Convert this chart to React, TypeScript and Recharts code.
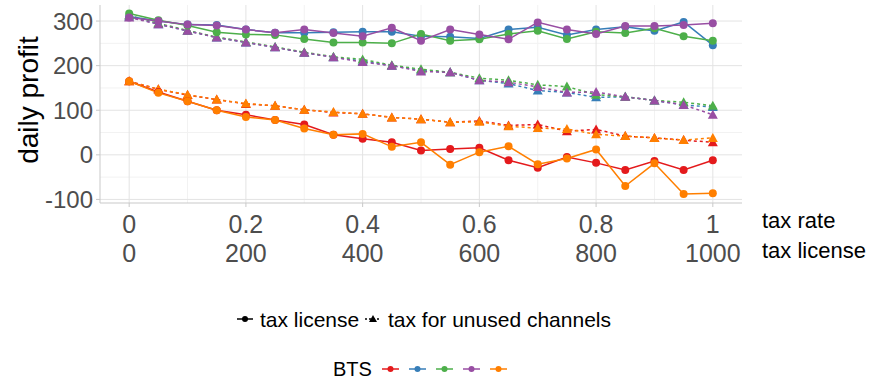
import React from 'react'
import { ComposedChart, Line, XAxis, YAxis, CartesianGrid } from 'recharts'

const taxRate = [0, 0.05, 0.1, 0.15, 0.2, 0.25, 0.3, 0.35, 0.4, 0.45, 0.5, 0.55, 0.6, 0.65, 0.7, 0.75, 0.8, 0.85, 0.9, 0.95, 1]

const rateTicks = [0, 0.2, 0.4, 0.6, 0.8, 1]
const rateLabels = ['0', '0.2', '0.4', '0.6', '0.8', '1']
const licenseLabels = ['0', '200', '400', '600', '800', '1000']
const profitTicks = [-100, 0, 100, 200, 300]

const btsNames = ['1', '2', '3', '4', '5']
const btsColors = ['#E41A1C', '#377EB8', '#4DAF4A', '#984EA3', '#FF7F00']

// tax license (solid, circles)
const licenseRed = [165, 141, 120, 100, 90, 78, 68, 45, 36, 28, 10, 13, 16, -12, -29, -5, -18, -34, -14, -34, -12]
const licenseBlue = [310, 300, 292, 291, 281, 274, 274, 275, 276, 276, 266, 265, 261, 281, 286, 269, 281, 287, 278, 298, 246]
const licenseGreen = [317, 302, 290, 275, 270, 269, 260, 252, 252, 250, 271, 256, 259, 271, 278, 260, 276, 273, 284, 266, 256]
const licensePurple = [308, 300, 292, 290, 281, 274, 281, 273, 266, 285, 256, 281, 270, 259, 297, 281, 271, 289, 289, 291, 295]
const licenseOrange = [165, 139, 120, 100, 85, 78, 59, 45, 47, 18, 28, -22, 6, 19, -21, -8, 12, -70, -19, -88, -86]

// tax for unused channels (dashed, triangles)
const unusedRed = [165, 147, 134, 124, 114, 110, 101, 95, 92, 84, 80, 73, 76, 66, 68, 53, 57, 42, 38, 33, 28]
const unusedBlue = [310, 293, 278, 263, 252, 241, 229, 219, 210, 200, 189, 185, 167, 160, 144, 140, 129, 130, 122, 112, 107]
const unusedGreen = [313, 295, 279, 264, 253, 242, 230, 220, 214, 201, 192, 185, 172, 167, 157, 153, 135, 130, 122, 118, 110]
const unusedPurple = [308, 293, 278, 263, 252, 241, 229, 219, 208, 200, 187, 185, 167, 163, 152, 140, 141, 130, 122, 112, 90]
const unusedOrange = [165, 147, 135, 124, 115, 110, 101, 96, 92, 84, 80, 73, 74, 64, 60, 58, 46, 42, 38, 33, 38]

const licenseSeries = [licenseRed, licenseBlue, licenseGreen, licensePurple, licenseOrange]
const unusedSeries = [unusedRed, unusedBlue, unusedGreen, unusedPurple, unusedOrange]

const data = taxRate.map((x, i) => {
  const row: Record<string, number> = { x }
  btsNames.forEach((b, k) => {
    row[`lic${b}`] = licenseSeries[k][i]
    row[`unu${b}`] = unusedSeries[k][i]
  })
  return row
})

const FONT = '"Liberation Sans", Arial, sans-serif'
const AXIS_GREY = '#c9c9c9'
const TEXT_GREY = '#4d4d4d'

function XTick(props: any) {
  const { x, y, payload } = props
  const idx = rateTicks.indexOf(payload.value)
  return (
    <g>
      <text x={x} y={y + 24} textAnchor="middle" fontSize={25} fill={TEXT_GREY} fontFamily={FONT}>
        {rateLabels[idx]}
      </text>
      <text x={x} y={y + 53} textAnchor="middle" fontSize={25} fill={TEXT_GREY} fontFamily={FONT}>
        {licenseLabels[idx]}
      </text>
    </g>
  )
}

function triangleDot(color: string, name: string) {
  return (props: any) => {
    const { cx, cy, index } = props
    if (cx == null || cy == null) return <g key={`t-${name}-${index}`} />
    const s = 5
    return (
      <polygon
        key={`t-${name}-${index}`}
        points={`${cx},${cy - s} ${cx - s},${cy + s * 0.8} ${cx + s},${cy + s * 0.8}`}
        fill={color}
      />
    )
  }
}

export default function App() {
  return (
    <div style={{ position: 'absolute', left: 0, top: 0, width: 871, height: 383, background: '#fff', fontFamily: FONT }}>
      <ComposedChart width={871} height={290} data={data} margin={{ top: 5, right: 129, bottom: 17, left: 0 }}>
        <CartesianGrid
          stroke="#f2f2f2"
          horizontalValues={[-50, 50, 150, 250]}
          verticalValues={[0.1, 0.3, 0.5, 0.7, 0.9]}
        />
        <CartesianGrid stroke="#e3e3e3" horizontalValues={profitTicks} verticalValues={rateTicks} />
        <XAxis
          dataKey="x"
          type="number"
          domain={[-0.05, 1.05]}
          ticks={rateTicks}
          height={70}
          stroke={AXIS_GREY}
          tickSize={4}
          tick={<XTick />}
          allowDataOverflow
        />
        <YAxis
          type="number"
          domain={[-108, 336]}
          ticks={profitTicks}
          width={100}
          stroke={AXIS_GREY}
          tickSize={4}
          tickMargin={3}
          tick={{ fontSize: 24, fill: TEXT_GREY, fontFamily: FONT }}
          allowDataOverflow
        />
        {btsNames.map((b, k) => (
          <Line
            key={`unu${b}`}
            dataKey={`unu${b}`}
            stroke={btsColors[k]}
            strokeWidth={1.5}
            strokeDasharray="3 3"
            dot={triangleDot(btsColors[k], `unu${b}`)}
            activeDot={false}
            isAnimationActive={false}
          />
        ))}
        {btsNames.map((b, k) => (
          <Line
            key={`lic${b}`}
            dataKey={`lic${b}`}
            stroke={btsColors[k]}
            strokeWidth={1.5}
            dot={{ r: 4, fill: btsColors[k], stroke: btsColors[k], strokeWidth: 0 }}
            activeDot={false}
            isAnimationActive={false}
          />
        ))}
      </ComposedChart>

      <svg width={871} height={383} style={{ position: 'absolute', left: 0, top: 0, pointerEvents: 'none' }}>
        <text
          transform="translate(38,100) rotate(-90)"
          textAnchor="middle"
          fontSize={28}
          fill="#000"
          fontFamily={FONT}
        >
          daily profit
        </text>
        <text x={762} y={228} fontSize={22} fill="#000" fontFamily={FONT}>tax rate</text>
        <text x={762} y={258} fontSize={22} fill="#000" fontFamily={FONT}>tax license</text>

        {/* linetype legend */}
        <line x1={237} x2={253} y1={319} y2={319} stroke="#000" strokeWidth={1.5} />
        <circle cx={245} cy={319} r={3} fill="#000" />
        <text x={260} y={327} fontSize={21} fill="#000" fontFamily={FONT}>tax license</text>
        <line x1={365} x2={381} y1={319} y2={319} stroke="#000" strokeWidth={1.5} strokeDasharray="2 2" />
        <polygon points="373,315 369,322 377,322" fill="#000" />
        <text x={388} y={327} fontSize={21} fill="#000" fontFamily={FONT}>tax for unused channels</text>

        {/* colour legend */}
        <text x={333} y={376} fontSize={20} fill="#000" fontFamily={FONT}>BTS</text>
        {btsColors.map((c, k) => (
          <g key={c}>
            <line x1={382 + k * 27} x2={399 + k * 27} y1={369} y2={369} stroke={c} strokeWidth={1.5} />
            <circle cx={390.5 + k * 27} cy={369} r={3} fill={c} />
          </g>
        ))}
      </svg>
    </div>
  )
}
